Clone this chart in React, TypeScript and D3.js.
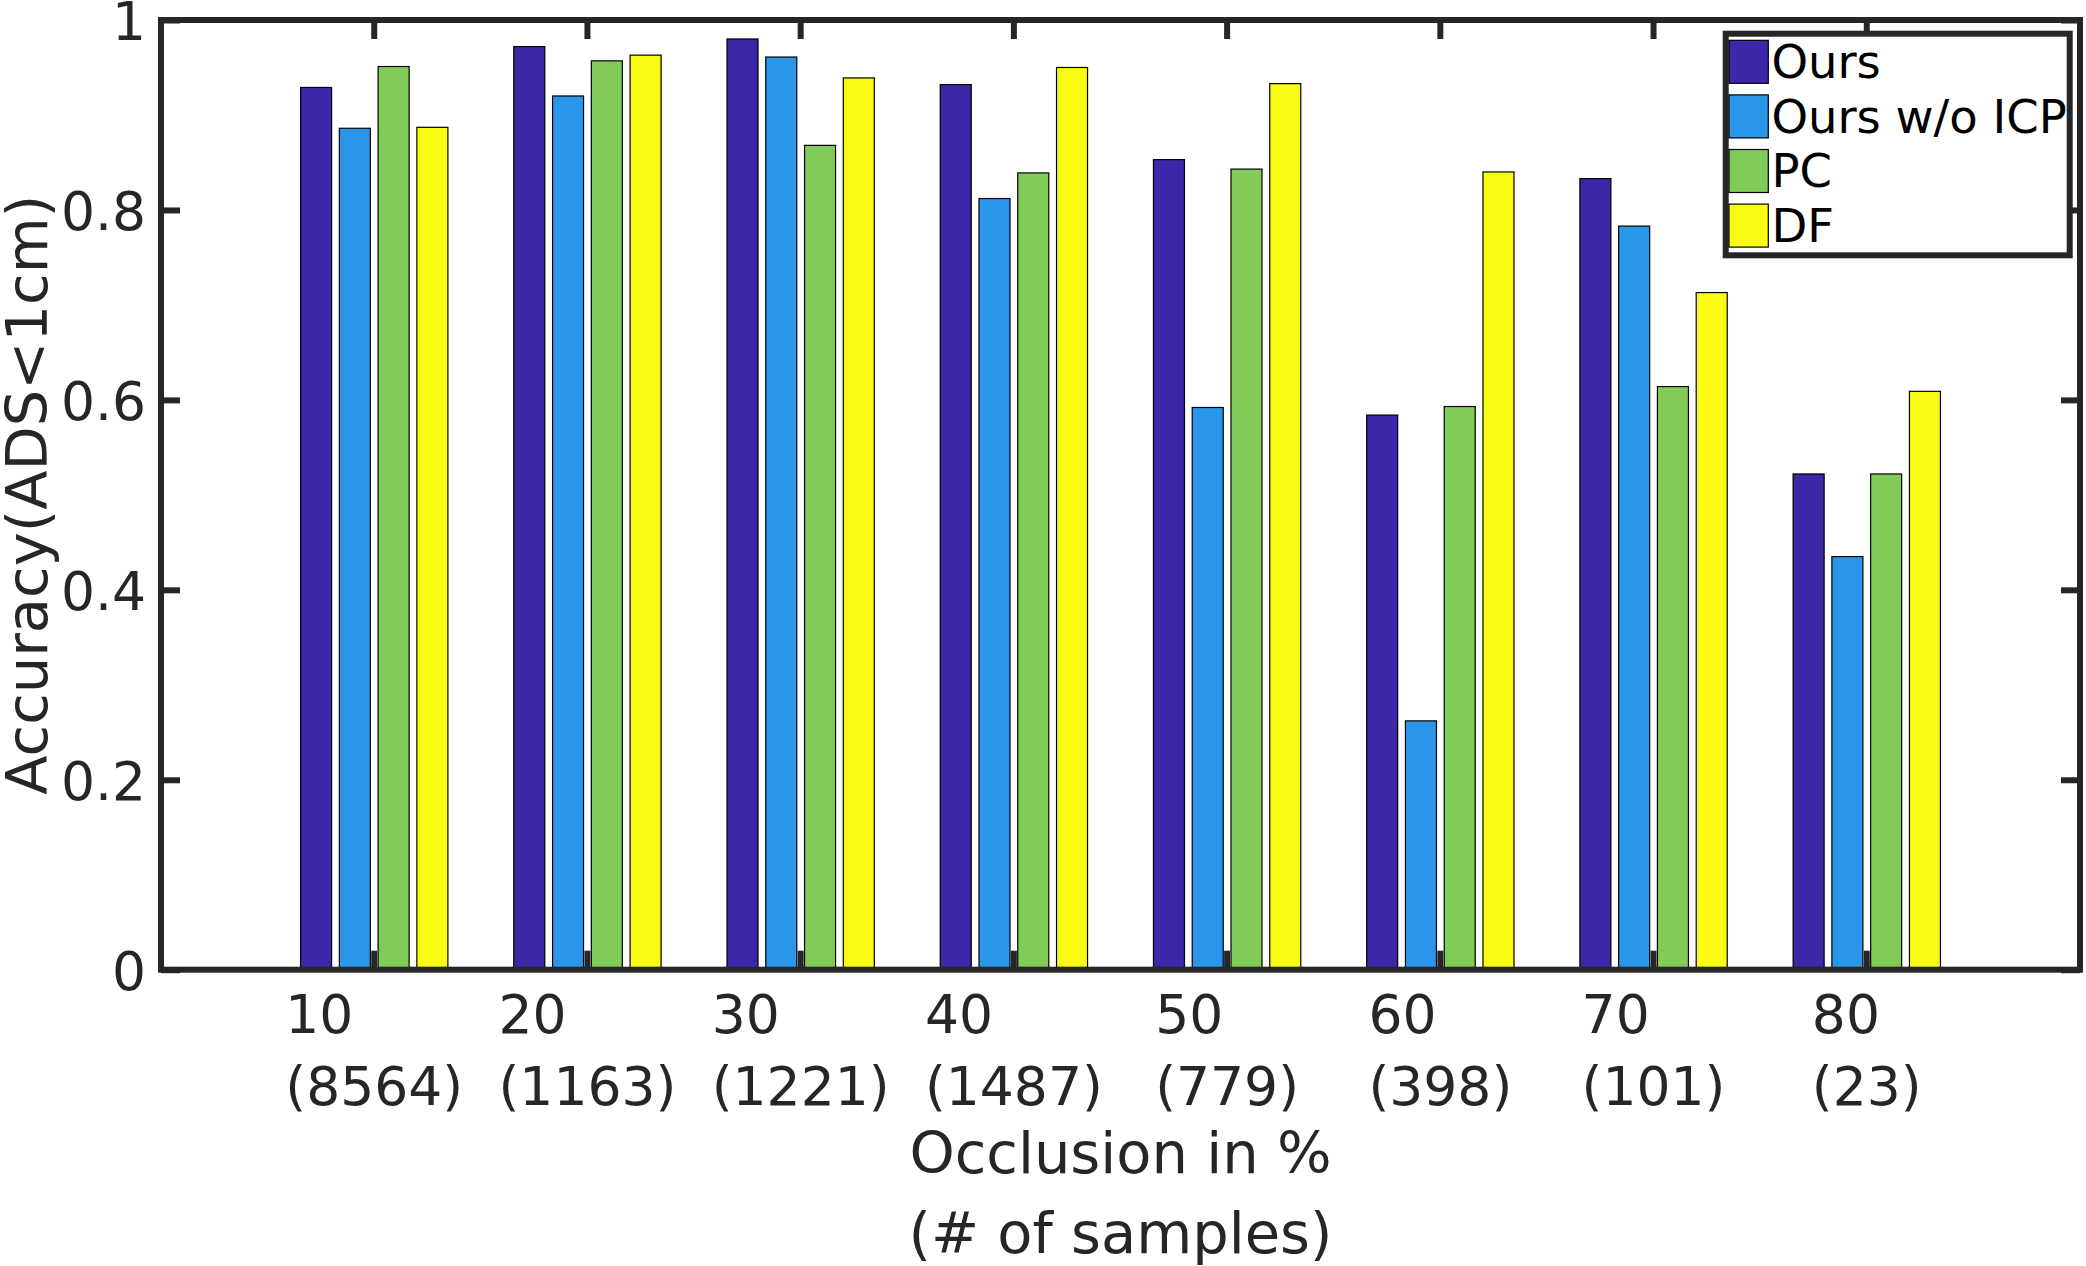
import { useCallback, useEffect, useRef } from 'react';

import {
  axisBottom,
  axisLeft,
  axisRight,
  axisTop,
  scaleBand,
  scaleLinear,
  scaleOrdinal,
  select,
} from 'd3';

// occlusion levels (%) and the number of samples for each
const categories = ['10', '20', '30', '40', '50', '60', '70', '80'];
const sampleCounts = [
  '(8564)',
  '(1163)',
  '(1221)',
  '(1487)',
  '(779)',
  '(398)',
  '(101)',
  '(23)',
];

const seriesNames = ['Ours', 'Ours w/o ICP', 'PC', 'DF'];

// accuracy (ADS < 1cm) per occlusion level
const ours = [0.929, 0.972, 0.98, 0.932, 0.853, 0.584, 0.833, 0.522];
const oursNoIcp = [0.886, 0.92, 0.961, 0.812, 0.592, 0.262, 0.783, 0.435];
const pc = [0.951, 0.957, 0.868, 0.839, 0.843, 0.593, 0.614, 0.522];
const df = [0.887, 0.963, 0.939, 0.95, 0.933, 0.84, 0.713, 0.609];

const yTicks = [0, 0.2, 0.4, 0.6, 0.8, 1];

const seriesValues = [ours, oursNoIcp, pc, df];

const FONT = "'DejaVu Sans', sans-serif";
const AXIS_COLOR = '#262626';

export default function App() {
  const containerRef = useRef<HTMLDivElement>(null);

  const initChart = useCallback(() => {
    const container = containerRef.current;
    if (!container) return;

    const width = 2086;
    const height = 1266;
    const plot = { left: 161, right: 2080, top: 20, bottom: 969.7 };

    const color = scaleOrdinal<string>()
      .domain(seriesNames)
      .range(['#3E26A8', '#2A96E9', '#81CB58', '#F9FB15']);

    const div = select(container);
    div.select('svg').remove();

    const svg = div
      .append('svg')
      .attr('width', width)
      .attr('height', height)
      .style('display', 'block')
      .style('background', '#fff');

    // scales
    const x0 = scaleBand<string>()
      .domain(categories)
      .range([plot.left, plot.right])
      .paddingInner(0)
      .paddingOuter(0.5);
    const step = x0.step();
    const groupW = (4 / 5.5) * step;
    const x1 = scaleBand<string>()
      .domain(seriesNames)
      .range([(step - groupW) / 2, (step + groupW) / 2])
      .paddingInner(0.2)
      .paddingOuter(0.1);

    const y = scaleLinear().domain([0, 1]).range([plot.bottom, plot.top]);

    // bars
    const rows = categories.map((c, i) => ({
      key: c,
      values: seriesNames.map((s, j) => ({ key: s, value: seriesValues[j][i] })),
    }));

    svg
      .append('g')
      .attr('class', 'bars')
      .selectAll('g')
      .data(rows)
      .join('g')
      .attr('transform', (d) => `translate(${x0(d.key) || 0},0)`)
      .selectAll('rect')
      .data((d) => d.values)
      .join('rect')
      .attr('x', (d) => x1(d.key) || 0)
      .attr('y', (d) => y(d.value))
      .attr('width', x1.bandwidth())
      .attr('height', (d) => y(0) - y(d.value))
      .attr('fill', (d) => color(d.key))
      .attr('stroke', '#000')
      .attr('stroke-width', 1.2);

    const styleAxis = (g: any) => {
      g.select('.domain').remove();
      g.selectAll('line')
        .attr('stroke', AXIS_COLOR)
        .attr('stroke-width', 6);
      g.selectAll('text')
        .attr('font-family', FONT)
        .attr('font-size', 53.5)
        .attr('fill', AXIS_COLOR);
    };

    // Y axis (left, labelled) and right ticks
    svg
      .append('g')
      .attr('transform', `translate(${plot.left},0)`)
      .call(
        axisLeft(y)
          .tickValues(yTicks)
          .tickFormat((d) => String(+d))
          .tickSize(-19)
          .tickPadding(15),
      )
      .call(styleAxis)
      .call((g) => g.selectAll('text').attr('dy', '0.37em'));
    svg
      .append('g')
      .attr('transform', `translate(${plot.right},0)`)
      .call(axisRight(y).tickValues(yTicks).tickFormat(() => '').tickSize(-19))
      .call(styleAxis);

    // X axis ticks (bottom and top)
    svg
      .append('g')
      .attr('transform', `translate(0,${plot.bottom})`)
      .call(axisBottom(x0).tickFormat(() => '').tickSize(-19))
      .call(styleAxis);
    svg
      .append('g')
      .attr('transform', `translate(0,${plot.top})`)
      .call(axisTop(x0).tickFormat(() => '').tickSize(-19))
      .call(styleAxis);

    // two-line x tick labels, left aligned, block centred on tick
    const xLabels = svg.append('g').attr('class', 'x-labels');
    categories.forEach((c, i) => {
      const cx = (x0(c) || 0) + step / 2;
      const g = xLabels.append('g');
      const l1 = g
        .append('text')
        .attr('y', plot.bottom + 63)
        .text(c);
      const l2 = g
        .append('text')
        .attr('y', plot.bottom + 135.3)
        .text(sampleCounts[i]);
      g.selectAll('text')
        .attr('font-family', FONT)
        .attr('font-size', 53.5)
        .attr('fill', AXIS_COLOR);
      const w = Math.max(
        (l1.node() as SVGTextElement).getComputedTextLength(),
        (l2.node() as SVGTextElement).getComputedTextLength(),
      );
      g.selectAll('text').attr('x', cx - w / 2);
    });

    // box
    svg
      .append('rect')
      .attr('x', plot.left)
      .attr('y', plot.top)
      .attr('width', plot.right - plot.left)
      .attr('height', plot.bottom - plot.top)
      .attr('fill', 'none')
      .attr('stroke', AXIS_COLOR)
      .attr('stroke-width', 6);

    // axis titles
    const midX = (plot.left + plot.right) / 2;
    svg
      .append('text')
      .attr('x', midX)
      .attr('y', 1173.3)
      .attr('text-anchor', 'middle')
      .attr('font-family', FONT)
      .attr('font-size', 57.5)
      .attr('fill', AXIS_COLOR)
      .text('Occlusion in %');
    svg
      .append('text')
      .attr('x', midX)
      .attr('y', 1252.7)
      .attr('text-anchor', 'middle')
      .attr('font-family', FONT)
      .attr('font-size', 57.5)
      .attr('fill', AXIS_COLOR)
      .text('(# of samples)');
    svg
      .append('text')
      .attr('transform', `translate(47,${(plot.top + plot.bottom) / 2}) rotate(-90)`)
      .attr('text-anchor', 'middle')
      .attr('font-family', FONT)
      .attr('font-size', 57.5)
      .attr('fill', AXIS_COLOR)
      .text('Accuracy(ADS<1cm)');

    // legend
    const legend = svg.append('g').attr('class', 'legend');
    legend
      .append('rect')
      .attr('x', 1725.7)
      .attr('y', 33.7)
      .attr('width', 344)
      .attr('height', 221.6)
      .attr('fill', '#fff')
      .attr('stroke', AXIS_COLOR)
      .attr('stroke-width', 6);
    const entry = legend
      .selectAll('g.entry')
      .data(seriesNames)
      .join('g')
      .attr('class', 'entry')
      .attr('transform', (_, i) => `translate(0,${i * 54.6})`);
    entry
      .append('rect')
      .attr('x', 1729)
      .attr('y', 40.3)
      .attr('width', 39.3)
      .attr('height', 43)
      .attr('fill', (d) => color(d))
      .attr('stroke', '#000')
      .attr('stroke-width', 1.2);
    entry
      .append('text')
      .attr('x', 1771.4)
      .attr('y', 78.3)
      .attr('font-family', FONT)
      .attr('font-size', 46.5)
      .attr('fill', '#000')
      .text((d) => d);
  }, []);

  const destroyChart = useCallback(() => {
    const container = containerRef.current;
    if (!container) return;
    select(container).select('svg').remove();
  }, []);

  useEffect(() => {
    initChart();
    return destroyChart;
  }, [destroyChart, initChart]);

  return (
    <div
      ref={containerRef}
      style={{ position: 'absolute', left: 0, top: 0, background: '#fff' }}
    />
  );
}
